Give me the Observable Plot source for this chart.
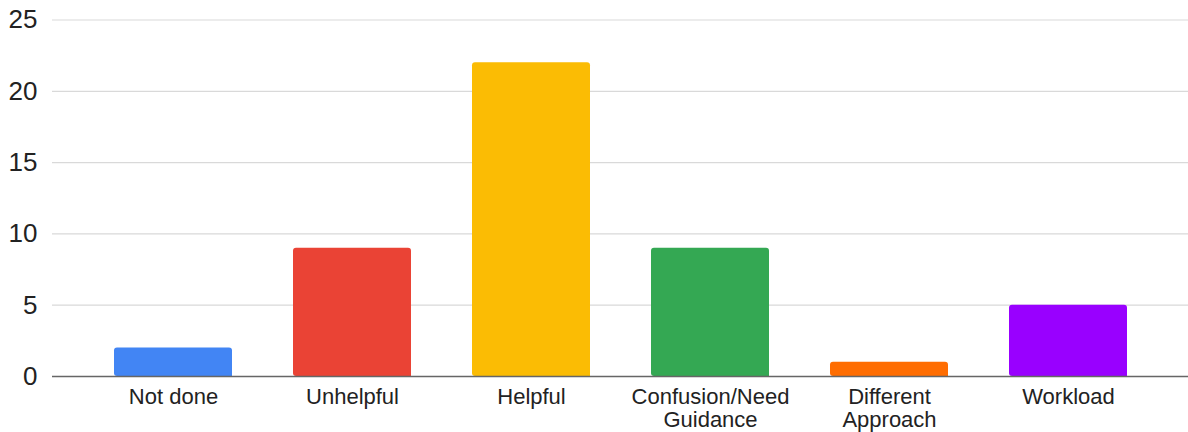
<!DOCTYPE html>
<html>
<head>
<meta charset="utf-8">
<script src="https://cdn.jsdelivr.net/npm/d3@7"></script>
<script src="https://cdn.jsdelivr.net/npm/@observablehq/plot@0.6"></script>
<style>
  html, body { margin: 0; padding: 0; background: #fff; }
  svg { display: block; }
</style>
</head>
<body>
<div id="chart"></div>
<script>
// Responses per category
const categories = ["Not done", "Unhelpful", "Helpful", "Confusion/Need Guidance", "Different Approach", "Workload"];
const counts = [2, 9, 22, 9, 1, 5];
const colors = ["#4285F4", "#EA4335", "#FBBC04", "#34A853", "#FF6D01", "#9900FF"];
const axisLabels = ["Not done", "Unhelpful", "Helpful", "Confusion/Need\nGuidance", "Different\nApproach", "Workload"];
const yTicks = [0, 5, 10, 15, 20, 25];

const rows = categories.map((c, i) => ({category: c, count: counts[i]}));
const labelOf = new Map(categories.map((c, i) => [c, axisLabels[i]]));

const chart = Plot.plot({
  width: 1188,
  height: 432,
  marginLeft: 52,
  marginRight: 0,
  marginTop: 19.5,
  marginBottom: 56,
  style: {fontFamily: "'Liberation Sans', Arial, sans-serif", background: "#fff"},
  x: {domain: categories, padding: 0.342},
  y: {domain: [0, 25]},
  color: {domain: categories, range: colors},
  marks: [
    Plot.ruleY(yTicks.filter(d => d > 0), {stroke: "#d9d9d9", strokeWidth: 1.2}),
    Plot.barY(rows, {x: "category", y: "count", fill: "category", rx1: 3, ry1: 3}),
    Plot.ruleY([0], {stroke: "#666", strokeWidth: 1.5}),
    Plot.axisY({ticks: yTicks, tickSize: 0, tickPadding: 15, fontSize: 26, fill: "#222", label: null}),
    Plot.axisX({tickSize: 0, tickPadding: 11, fontSize: 22, lineHeight: 1.04, fill: "#222", label: null,
      tickFormat: d => labelOf.get(d)})
  ]
});

document.getElementById("chart").append(chart);
</script>
</body>
</html>
